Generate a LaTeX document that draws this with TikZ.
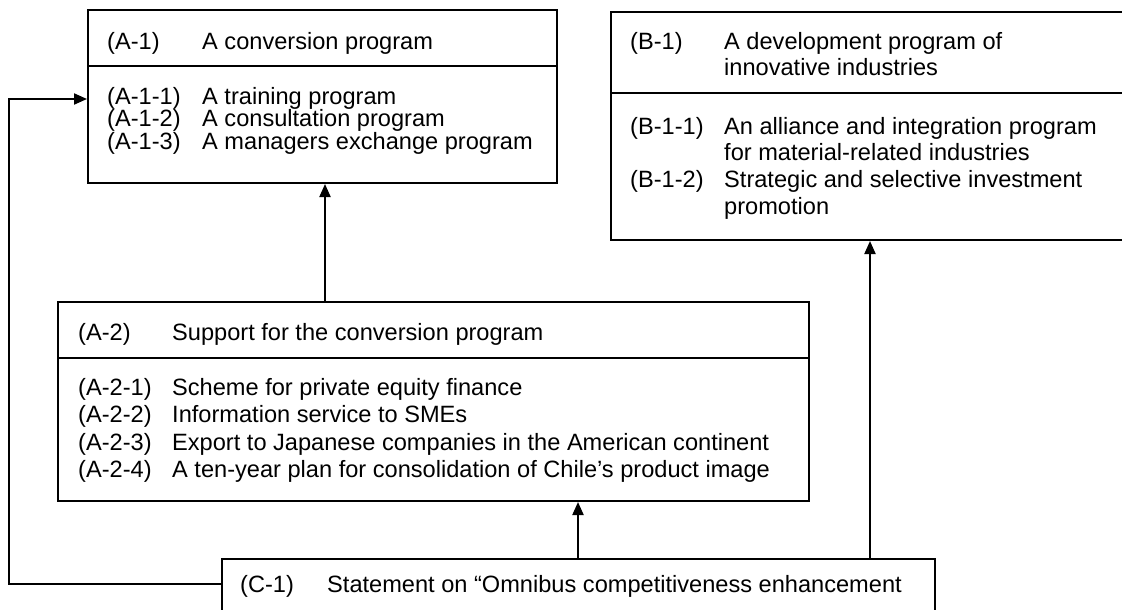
\documentclass[tikz,border=0pt]{standalone}
\usepackage{fontspec}
\setmainfont{Liberation Sans}
\usetikzlibrary{arrows.meta,calc}
\begin{document}
\begin{tikzpicture}[x=1pt,y=-1pt,
  box/.style={draw, line width=2pt, rectangle, inner sep=0pt, anchor=north west},
  txt/.style={anchor=base west, inner sep=0pt, font=\fontsize{23.6}{27}\selectfont},
  link/.style={line width=2pt},
  arr/.style={line width=2pt, -{Triangle[length=13pt,width=11pt]}}]
\useasboundingbox (0,0) rectangle (1122,610);
\clip (0,0) rectangle (1122,610);

% boxes
\node[box, minimum width=469pt, minimum height=173pt] (a1) at (87,9) {};
\node[box, minimum width=620pt, minimum height=228pt] (b1) at (610,11) {};
\node[box, minimum width=751pt, minimum height=199pt] (a2) at (57,301) {};
\node[box, minimum width=713pt, minimum height=100pt] (c1) at (221,558) {};

% header dividers
\draw[link] ($(a1.north west)+(0,57)$) -- ($(a1.north east)+(0,57)$);
\draw[link] ($(b1.north west)+(0,82)$) -- ($(b1.north east)+(0,82)$);
\draw[link] ($(a2.north west)+(0,57)$) -- ($(a2.north east)+(0,57)$);

% A-1
\node[txt] (a1h) at (107,50) {(A-1)};
\node[txt] (a1t) at (202,50) {A conversion program};
\node[txt] (a11) at (107,104) {(A-1-1)};
\node[txt] (a11t) at (202,104) {A training program};
\node[txt] (a12) at (107,126.5) {(A-1-2)};
\node[txt] (a12t) at (202,126.5) {A consultation program};
\node[txt] (a13) at (107,149) {(A-1-3)};
\node[txt] (a13t) at (202,149) {A managers exchange program};

% B-1
\node[txt] (b1h) at (630,50) {(B-1)};
\node[txt] (b1t) at (724,50) {A development program of};
\node[txt] (b1t2) at (724,76) {innovative industries};
\node[txt] (b11) at (630,134) {(B-1-1)};
\node[txt] (b11t) at (724,134) {An alliance and integration program};
\node[txt] (b11t2) at (724,160) {for material-related industries};
\node[txt] (b12) at (630,187) {(B-1-2)};
\node[txt] (b12t) at (724,187) {Strategic and selective investment};
\node[txt] (b12t2) at (724,214) {promotion};

% A-2
\node[txt] (a2h) at (78,340) {(A-2)};
\node[txt] (a2t) at (172,340) {Support for the conversion program};
\node[txt] (a21) at (78,395) {(A-2-1)};
\node[txt] (a21t) at (172,395) {Scheme for private equity finance};
\node[txt] (a22) at (78,422) {(A-2-2)};
\node[txt] (a22t) at (172,422) {Information service to SMEs};
\node[txt] (a23) at (78,450) {(A-2-3)};
\node[txt] (a23t) at (172,450) {Export to Japanese companies in the American continent};
\node[txt] (a24) at (78,477) {(A-2-4)};
\node[txt] (a24t) at (172,477) {A ten-year plan for consolidation of Chile’s product image};

% C-1
\node[txt] (c1h) at (240,592) {(C-1)};
\node[txt] (c1t) at (327,592) {Statement on “Omnibus competitiveness enhancement};

% connector guides
\coordinate (xa) at (325,0);
\coordinate (xc) at (578,0);
\coordinate (xb) at (870,0);
\coordinate (cy) at (0,584);
\coordinate (loop) at (9,99);

\draw[arr] (a2.north -| xa) -- (a1.south -| xa);
\draw[arr] (c1.north -| xc) -- (a2.south -| xc);
\draw[arr] (c1.north -| xb) -- (b1.south -| xb);
\draw[arr] (c1.west |- cy) -| (loop) -- (a1.west |- loop);
\end{tikzpicture}
\end{document}
